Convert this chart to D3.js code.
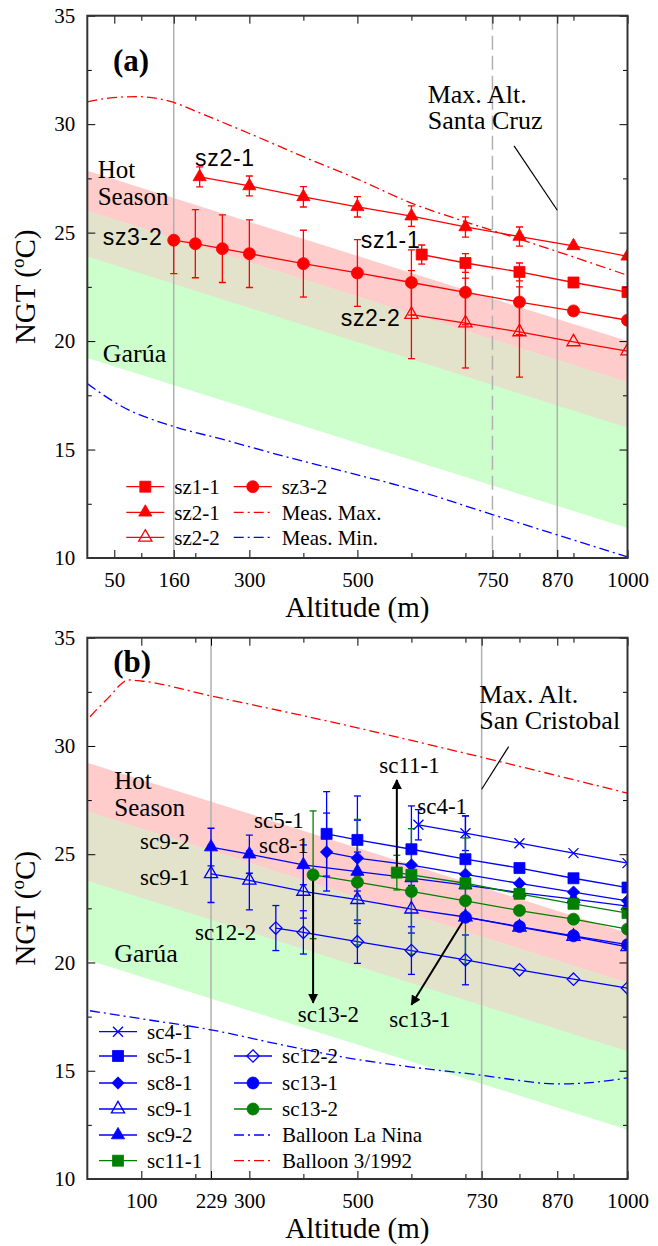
<!DOCTYPE html>
<html>
<head>
<meta charset="utf-8">
<script src="https://cdn.jsdelivr.net/npm/d3@7"></script>
<style>
  body { margin: 0; background: #fff; }
  svg { display: block; }
  text { font-family: "Liberation Serif", "Times New Roman", serif; fill: #000; }
  .sans { font-family: "Liberation Sans", Arial, sans-serif; }
</style>
</head>
<body>
<svg id="chart" width="658" height="1246"></svg>
<script>
// ---------------- axis values ----------------
const yTickValues = [10, 15, 20, 25, 30, 35];
const yMinorValues = [12.5, 17.5, 22.5, 27.5, 32.5];
const xMinorValues = [100, 200, 300, 400, 500, 600, 700, 800, 900];
const xTickLabelsA = [50, 160, 300, 500, 750, 870, 1000];
const xTickLabelsB = [100, 229, 300, 500, 730, 870, 1000];

// ---------------- climate bands (°C at 0 m and 1000 m) ----------------
const bandAltitudes = [0, 1000];
const hotTopA = [27.85, 20.0], hotBotA = [23.9, 16.0];
const garuaTopA = [26.0, 18.1], garuaBotA = [19.22, 11.38];
const hotTopB = [29.23, 21.36], hotBotB = [23.77, 15.9];
const garuaTopB = [26.97, 19.05], garuaBotB = [20.13, 12.28];

// ---------------- panel (a): Santa Cruz ----------------
const measMaxAlt = [0, 40, 90, 130, 160, 200, 300, 400, 500, 600, 700, 800, 900, 1000];
const measMaxVal = [31.03, 31.2, 31.27, 31.18, 31.0, 30.6, 29.57, 28.5, 27.47, 26.36, 25.5, 24.7, 23.88, 23.03];
const measMinAlt = [0, 61, 160, 246, 370, 493, 610, 750, 900, 1000];
const measMinVal = [18.04, 17.03, 16.06, 15.5, 14.65, 13.88, 13.11, 12.0, 10.83, 10.05];

const sz11Alt = [619, 700, 800, 900, 1000];
const sz11Val = [23.99, 23.6, 23.19, 22.7, 22.26];
const sz11Err = [0.44, 0.43, 0.41, 0, 0];

const sz21Alt = [208, 300, 400, 500, 600, 700, 800, 900, 1000];
const sz21Val = [27.57, 27.15, 26.65, 26.19, 25.76, 25.26, 24.82, 24.39, 23.91];
const sz21Err = [0.46, 0.46, 0.47, 0.47, 0.47, 0.47, 0.44, 0, 0];

const sz22Alt = [600, 700, 800, 900, 1000];
const sz22Val = [21.22, 20.83, 20.42, 19.96, 19.54];
const sz22Err = [2.03, 2.07, 2.08, 0, 0];

const sz32Alt = [160, 200, 250, 300, 400, 500, 600, 700, 800, 900, 1000];
const sz32Val = [24.65, 24.49, 24.26, 24.03, 23.57, 23.14, 22.7, 22.25, 21.8, 21.39, 20.96];
const sz32ErrUp = [0, 1.57, 1.56, 1.56, 1.54, 1.54, 1.5, 1.5, 1.5, 0, 0];
const sz32ErrDown = [1.54, 1.57, 1.56, 1.56, 1.54, 1.54, 1.5, 1.5, 1.5, 0, 0];

const legendLabelsA = ["sz1-1", "sz3-2", "sz2-1", "Meas. Max.", "sz2-2", "Meas. Min."];

// ---------------- panel (b): San Cristobal ----------------
const ballMarAlt = [5, 20, 42, 60, 76, 100, 229, 450, 730, 1000];
const ballMarVal = [31.35, 31.75, 32.3, 32.8, 33.05, 33.0, 32.31, 31.12, 29.48, 27.82];
const ballNinaAlt = [5, 100, 229, 350, 495, 600, 730, 800, 867, 930, 1000];
const ballNinaVal = [17.77, 17.4, 16.89, 16.25, 15.54, 15.17, 14.79, 14.55, 14.39, 14.45, 14.67];

const sc41Alt = [613, 700, 800, 900, 1000];
const sc41Val = [26.36, 25.97, 25.51, 25.05, 24.59];
const sc41Err = [0.7, 0.8, 0, 0, 0];

const sc51Alt = [443, 500, 600, 700, 800, 900, 1000];
const sc51Val = [25.94, 25.66, 25.23, 24.77, 24.36, 23.89, 23.46];
const sc51Err = [1.95, 2.03, 2.0, 2.0, 0, 0, 0];

const sc81Alt = [443, 500, 600, 700, 800, 900, 1000];
const sc81Val = [25.1, 24.82, 24.5, 24.07, 23.65, 23.25, 22.85];
const sc81Err = [1.8, 1.75, 0, 0, 0, 0, 0];

const sc91Alt = [229, 300, 400, 500, 600, 700, 800, 900, 1000];
const sc91Val = [24.09, 23.79, 23.28, 22.9, 22.46, 22.1, 21.63, 21.2, 20.72];
const sc91Err = [1.32, 1.36, 1.23, 1.1, 1.1, 0, 0, 0, 0];

const sc92Alt = [229, 300, 400, 500, 600, 700, 800, 900, 1000];
const sc92Val = [25.33, 25.0, 24.51, 24.2, 23.9, 23.57, 23.23, 22.93, 22.6];
const sc92Err = [0.87, 0.88, 0.92, 0.9, 0, 0, 0, 0, 0];

const sc111Alt = [573, 600, 700, 800, 900, 1000];
const sc111Val = [24.15, 24.05, 23.66, 23.17, 22.71, 22.28];
const sc111Err = [0.8, 0, 0, 0, 0, 0];

const sc122Alt = [349, 400, 500, 600, 700, 800, 900, 1000];
const sc122Val = [21.59, 21.39, 20.96, 20.55, 20.12, 19.66, 19.23, 18.82];
const sc122Err = [1.04, 1.0, 1.0, 1.1, 1.15, 0, 0, 0];

const sc131Alt = [700, 800, 900, 1000];
const sc131Val = [22.09, 21.66, 21.23, 20.82];
const sc131Err = [0, 0, 0, 0];

const sc132Alt = [418, 500, 600, 700, 800, 900, 1000];
const sc132Val = [24.05, 23.71, 23.28, 22.85, 22.4, 22.0, 21.54];
const sc132Err = [2.95, 2.9, 2.9, 2.9, 0, 0, 0];

const legendLabelsB = ["sc4-1", "sc5-1", "sc8-1", "sc9-1", "sc9-2", "sc11-1",
                       "sc12-2", "sc13-1", "sc13-2", "Balloon La Nina", "Balloon 3/1992"];

// ---------------- drawing ----------------
const RED = "#ff0000", BLUE = "#0000ff", GREEN = "#008000";
const svg = d3.select("#chart");
const x = d3.scaleLinear().domain([0, 1000]).range([87.3, 627.5]);

const defs = svg.append("defs");
defs.append("marker").attr("id", "arrowHead")
  .attr("viewBox", "0 0 10 10").attr("refX", 9).attr("refY", 5)
  .attr("markerWidth", 5).attr("markerHeight", 5).attr("markerUnits", "strokeWidth")
  .attr("orient", "auto")
  .append("path").attr("d", "M0,0L10,5L0,10Z").attr("fill", "#000");

function markerPath(shape) {
  switch (shape) {
    case "square": return "M-5.5,-5.5H5.5V5.5H-5.5Z";
    case "circle": return "M6,0A6,6 0 1,1 -6,0A6,6 0 1,1 6,0Z";
    case "triangle": return "M0,-7.6L6.6,3.8L-6.6,3.8Z";
    case "diamond": return "M0,-6.2L6.2,0L0,6.2L-6.2,0Z";
    case "x": return "M-5,-5L5,5M-5,5L5,-5";
  }
}

function drawMarker(g, shape, filled, color, cx, cy) {
  g.append("path").attr("d", markerPath(shape))
    .attr("transform", `translate(${cx},${cy})`)
    .attr("fill", filled ? color : "none")
    .attr("stroke", color).attr("stroke-width", filled ? 0.8 : 1.3);
}

const DASHDOT = "10,4,2,4";

function drawPanel(cfg) {
  const y = cfg.y;
  const top = y.range()[1], bottom = y.range()[0];
  const left = x.range()[0], right = x.range()[1];
  const clipId = "clip-" + cfg.id;
  defs.append("clipPath").attr("id", clipId)
    .append("rect").attr("x", left).attr("y", top)
    .attr("width", right - left).attr("height", bottom - top);

  const plot = svg.append("g").attr("clip-path", `url(#${clipId})`);

  // bands: hot season, garua, and their overlap
  const band = (upper, lower, fill) => {
    const pts = bandAltitudes.map((a, i) => [x(a), y(upper[i])])
      .concat(bandAltitudes.map((a, i) => [x(a), y(lower[i])]).reverse());
    plot.append("path").attr("d", "M" + pts.join("L") + "Z").attr("fill", fill);
  };
  band(cfg.hotTop, cfg.hotBot, "#ffcccc");
  band(cfg.garuaTop, cfg.garuaBot, "#ccffcc");
  band(cfg.garuaTop, cfg.hotBot, "#e3e3cc");

  // reference altitude lines
  cfg.refLines.forEach(r => {
    plot.append("line").attr("x1", x(r.alt)).attr("x2", x(r.alt))
      .attr("y1", top).attr("y2", bottom)
      .attr("stroke", "#b0b0b0").attr("stroke-width", 1.5)
      .attr("stroke-dasharray", r.dashed ? "14,6" : null);
  });

  // profile curves
  const curveLine = d3.line().x(d => x(d[0])).y(d => y(d[1])).curve(d3.curveMonotoneX);
  cfg.curves.forEach(c => {
    plot.append("path").datum(c.alt.map((a, i) => [a, c.val[i]]))
      .attr("d", curveLine).attr("fill", "none")
      .attr("stroke", c.color).attr("stroke-width", 1.3)
      .attr("stroke-dasharray", DASHDOT);
  });

  // series: lines, error bars, markers
  const straight = d3.line().x(d => x(d[0])).y(d => y(d[1]));
  cfg.series.forEach(s => {
    const pts = s.alt.map((a, i) => [a, s.val[i]]);
    plot.append("path").datum(pts).attr("d", straight)
      .attr("fill", "none").attr("stroke", s.color).attr("stroke-width", 1.3);
  });
  cfg.series.forEach(s => {
    s.alt.forEach((a, i) => {
      const up = s.errUp[i], dn = s.errDown[i];
      if (!up && !dn) return;
      const cx = x(a);
      const y1 = y(s.val[i] + up), y2 = y(s.val[i] - dn);
      plot.append("line").attr("x1", cx).attr("x2", cx).attr("y1", y1).attr("y2", y2)
        .attr("stroke", s.color).attr("stroke-width", 1.3);
      if (up) plot.append("line").attr("x1", cx - 3.5).attr("x2", cx + 3.5)
        .attr("y1", y1).attr("y2", y1).attr("stroke", s.color).attr("stroke-width", 1.3);
      if (dn) plot.append("line").attr("x1", cx - 3.5).attr("x2", cx + 3.5)
        .attr("y1", y2).attr("y2", y2).attr("stroke", s.color).attr("stroke-width", 1.3);
    });
  });

  // arrows pointing from a data point to its label
  (cfg.arrows || []).forEach(ar => {
    plot.append("line").attr("x1", x(ar.from[0])).attr("y1", y(ar.from[1]))
      .attr("x2", x(ar.to[0])).attr("y2", y(ar.to[1]))
      .attr("stroke", "#000").attr("stroke-width", 2)
      .attr("marker-end", "url(#arrowHead)");
  });

  cfg.series.forEach(s => {
    s.alt.forEach((a, i) => drawMarker(plot, s.shape, s.filled, s.color, x(a), y(s.val[i])));
  });

  // annotation pointer line
  plot.append("line").attr("x1", x(cfg.pointer[0][0])).attr("y1", y(cfg.pointer[0][1]))
    .attr("x2", x(cfg.pointer[1][0])).attr("y2", y(cfg.pointer[1][1]))
    .attr("stroke", "#000").attr("stroke-width", 1.2);

  // text annotations (pixel offsets inside the plot); multi-line ones use tspans
  const txt = svg.append("g");
  cfg.texts.forEach(t => {
    const el = txt.append("text").attr("x", t.x).attr("y", top + t.y)
      .attr("class", t.sans ? "sans" : null)
      .attr("font-size", t.size).attr("font-weight", t.bold ? "bold" : null)
      .attr("letter-spacing", t.spacing || null);
    const lines = t.text.split("\n");
    if (lines.length === 1) { el.text(t.text); return; }
    lines.forEach((ln, k) => el.append("tspan").attr("x", t.x).attr("dy", k ? t.lead : 0).text(ln));
  });

  // legend
  const lg = svg.append("g");
  cfg.legend.forEach(e => {
    const yy = top + e.row;
    const seg = lg.append("line").attr("x1", e.x0).attr("x2", e.x0 + 38)
      .attr("y1", yy).attr("y2", yy).attr("stroke", e.color).attr("stroke-width", 1.3);
    if (e.dashed) seg.attr("stroke-dasharray", DASHDOT);
    if (e.shape) drawMarker(lg, e.shape, e.filled, e.color, e.x0 + 19, yy);
    lg.append("text").attr("x", e.x0 + 48).attr("y", yy).attr("dy", "0.35em")
      .attr("font-size", 21).text(e.label);
  });

  // axes with inward ticks
  const ax = svg.append("g");
  const style = g => {
    g.select(".domain").remove();
    g.selectAll(".tick line").attr("stroke", "#000").attr("stroke-width", 1);
    g.selectAll(".tick text").attr("font-size", 21).attr("fill", "#000");
  };
  const minor = xMinorValues.filter(v => !cfg.xLabels.includes(v));
  ax.append("g").attr("transform", `translate(0,${bottom})`)
    .call(d3.axisBottom(x).tickValues(cfg.xLabels).tickFormat(d3.format("d")).tickSize(-8).tickPadding(14)).call(style);
  ax.append("g").attr("transform", `translate(0,${bottom})`)
    .call(d3.axisBottom(x).tickValues(minor).tickFormat("").tickSize(-5)).call(style);
  ax.append("g").attr("transform", `translate(0,${top})`)
    .call(d3.axisTop(x).tickValues(cfg.xLabels).tickFormat("").tickSize(-8)).call(style);
  ax.append("g").attr("transform", `translate(0,${top})`)
    .call(d3.axisTop(x).tickValues(minor).tickFormat("").tickSize(-5)).call(style);
  ax.append("g").attr("transform", `translate(${left},0)`)
    .call(d3.axisLeft(y).tickValues(yTickValues).tickFormat(d3.format("d")).tickSize(-8).tickPadding(12)).call(style);
  ax.append("g").attr("transform", `translate(${left},0)`)
    .call(d3.axisLeft(y).tickValues(yMinorValues).tickFormat("").tickSize(-4.5)).call(style);
  ax.append("g").attr("transform", `translate(${right},0)`)
    .call(d3.axisRight(y).tickValues(yTickValues).tickFormat("").tickSize(-8)).call(style);
  ax.append("g").attr("transform", `translate(${right},0)`)
    .call(d3.axisRight(y).tickValues(yMinorValues).tickFormat("").tickSize(-4.5)).call(style);

  ax.append("rect").attr("x", left).attr("y", top).attr("width", right - left).attr("height", bottom - top)
    .attr("fill", "none").attr("stroke", "#333").attr("stroke-width", 2);

  // axis titles
  ax.append("text").attr("x", (left + right) / 2).attr("y", bottom + 59)
    .attr("text-anchor", "middle").attr("font-size", 29).text("Altitude (m)");
  const yt = ax.append("text").attr("transform", `translate(35,${(top + bottom) / 2}) rotate(-90)`)
    .attr("text-anchor", "middle").attr("font-size", 29);
  yt.append("tspan").text("NGT (");
  yt.append("tspan").attr("font-size", 19).attr("dy", -11).text("o");
  yt.append("tspan").attr("dy", 11).text("C)");
}

const mk = (alt, val, errUp, errDown, color, shape, filled) =>
  ({ alt, val, errUp, errDown, color, shape, filled });

drawPanel({
  id: "a",
  y: d3.scaleLinear().domain([10, 35]).range([558, 15.7]),
  xLabels: xTickLabelsA,
  hotTop: hotTopA, hotBot: hotBotA, garuaTop: garuaTopA, garuaBot: garuaBotA,
  refLines: [{ alt: 160 }, { alt: 750, dashed: true }, { alt: 870 }],
  curves: [
    { alt: measMaxAlt, val: measMaxVal, color: RED },
    { alt: measMinAlt, val: measMinVal, color: BLUE }
  ],
  series: [
    mk(sz11Alt, sz11Val, sz11Err, sz11Err, RED, "square", true),
    mk(sz21Alt, sz21Val, sz21Err, sz21Err, RED, "triangle", true),
    mk(sz22Alt, sz22Val, sz22Err, sz22Err, RED, "triangle", false),
    mk(sz32Alt, sz32Val, sz32ErrUp, sz32ErrDown, RED, "circle", true)
  ],
  pointer: [[790, 29.0], [870, 26.03]],
  texts: [
    { text: "(a)", x: 113, y: 55.3, size: 31, bold: true },
    { text: "Hot\nSeason", x: 97.7, y: 162, size: 25, lead: 27 },
    { text: "Garúa", x: 102.7, y: 346, size: 26 },
    { text: "Max. Alt.\nSanta Cruz", x: 427.7, y: 87, size: 26, lead: 26.6 },
    { text: "sz2-1", x: 195, y: 150.3, size: 23, sans: true, spacing: 0.7 },
    { text: "sz3-2", x: 102.7, y: 229.3, size: 23, sans: true, spacing: 0.7 },
    { text: "sz1-1", x: 360.7, y: 232.6, size: 23, sans: true, spacing: 0.7 },
    { text: "sz2-2", x: 340.7, y: 310.3, size: 23, sans: true, spacing: 0.7 }
  ],
  legend: [
    { label: legendLabelsA[0], x0: 126.3, row: 471, color: RED, shape: "square", filled: true },
    { label: legendLabelsA[1], x0: 233.7, row: 471, color: RED, shape: "circle", filled: true },
    { label: legendLabelsA[2], x0: 126.3, row: 496.6, color: RED, shape: "triangle", filled: true },
    { label: legendLabelsA[3], x0: 233.7, row: 496.6, color: RED, dashed: true },
    { label: legendLabelsA[4], x0: 126.3, row: 521.6, color: RED, shape: "triangle", filled: false },
    { label: legendLabelsA[5], x0: 233.7, row: 521.6, color: BLUE, dashed: true }
  ]
});

drawPanel({
  id: "b",
  y: d3.scaleLinear().domain([10, 35]).range([1179, 637.7]),
  xLabels: xTickLabelsB,
  hotTop: hotTopB, hotBot: hotBotB, garuaTop: garuaTopB, garuaBot: garuaBotB,
  refLines: [{ alt: 229 }, { alt: 730 }],
  curves: [
    { alt: ballMarAlt, val: ballMarVal, color: RED },
    { alt: ballNinaAlt, val: ballNinaVal, color: BLUE }
  ],
  series: [
    mk(sc41Alt, sc41Val, sc41Err, sc41Err, BLUE, "x", false),
    mk(sc51Alt, sc51Val, sc51Err, sc51Err, BLUE, "square", true),
    mk(sc81Alt, sc81Val, sc81Err, sc81Err, BLUE, "diamond", true),
    mk(sc91Alt, sc91Val, sc91Err, sc91Err, BLUE, "triangle", false),
    mk(sc92Alt, sc92Val, sc92Err, sc92Err, BLUE, "triangle", true),
    mk(sc111Alt, sc111Val, sc111Err, sc111Err, GREEN, "square", true),
    mk(sc122Alt, sc122Val, sc122Err, sc122Err, BLUE, "diamond", false),
    mk(sc131Alt, sc131Val, sc131Err, sc131Err, BLUE, "circle", true),
    mk(sc132Alt, sc132Val, sc132Err, sc132Err, GREEN, "circle", true)
  ],
  arrows: [
    { from: [sc111Alt[0], sc111Val[0]], to: [sc111Alt[0], 28.43] },
    { from: [sc132Alt[0], sc132Val[0]], to: [sc132Alt[0], 18.14] },
    { from: [sc131Alt[0], sc131Val[0]], to: [600, 18.05] }
  ],
  pointer: [[780, 29.97], [730, 28.0]],
  texts: [
    { text: "(b)", x: 113.3, y: 34, size: 31, bold: true },
    { text: "Hot\nSeason", x: 114.3, y: 151.6, size: 25, lead: 27 },
    { text: "Garúa", x: 114.3, y: 324, size: 26 },
    { text: "Max. Alt.\nSan Cristobal", x: 479.3, y: 65, size: 26, lead: 26.6 },
    { text: "sc11-1", x: 379.3, y: 135.6, size: 23 },
    { text: "sc4-1", x: 417.3, y: 176.3, size: 23 },
    { text: "sc5-1", x: 254, y: 190.6, size: 23 },
    { text: "sc8-1", x: 259, y: 215, size: 23 },
    { text: "sc9-2", x: 140, y: 211.6, size: 23 },
    { text: "sc9-1", x: 140, y: 247.3, size: 23 },
    { text: "sc12-2", x: 195, y: 302.3, size: 23 },
    { text: "sc13-2", x: 297.7, y: 384, size: 23 },
    { text: "sc13-1", x: 389.3, y: 389.6, size: 23 }
  ],
  legend: [
    { label: legendLabelsB[0], x0: 99, row: 394, color: BLUE, shape: "x", filled: false },
    { label: legendLabelsB[1], x0: 99, row: 418.3, color: BLUE, shape: "square", filled: true },
    { label: legendLabelsB[2], x0: 99, row: 445.3, color: BLUE, shape: "diamond", filled: true },
    { label: legendLabelsB[3], x0: 99, row: 471.3, color: BLUE, shape: "triangle", filled: false },
    { label: legendLabelsB[4], x0: 99, row: 497.3, color: BLUE, shape: "triangle", filled: true },
    { label: legendLabelsB[5], x0: 99, row: 523, color: GREEN, shape: "square", filled: true },
    { label: legendLabelsB[6], x0: 234, row: 418.3, color: BLUE, shape: "diamond", filled: false },
    { label: legendLabelsB[7], x0: 234, row: 445.3, color: BLUE, shape: "circle", filled: true },
    { label: legendLabelsB[8], x0: 234, row: 471.3, color: GREEN, shape: "circle", filled: true },
    { label: legendLabelsB[9], x0: 234, row: 497.3, color: BLUE, dashed: true },
    { label: legendLabelsB[10], x0: 234, row: 523, color: RED, dashed: true }
  ]
});
</script>
</body>
</html>
